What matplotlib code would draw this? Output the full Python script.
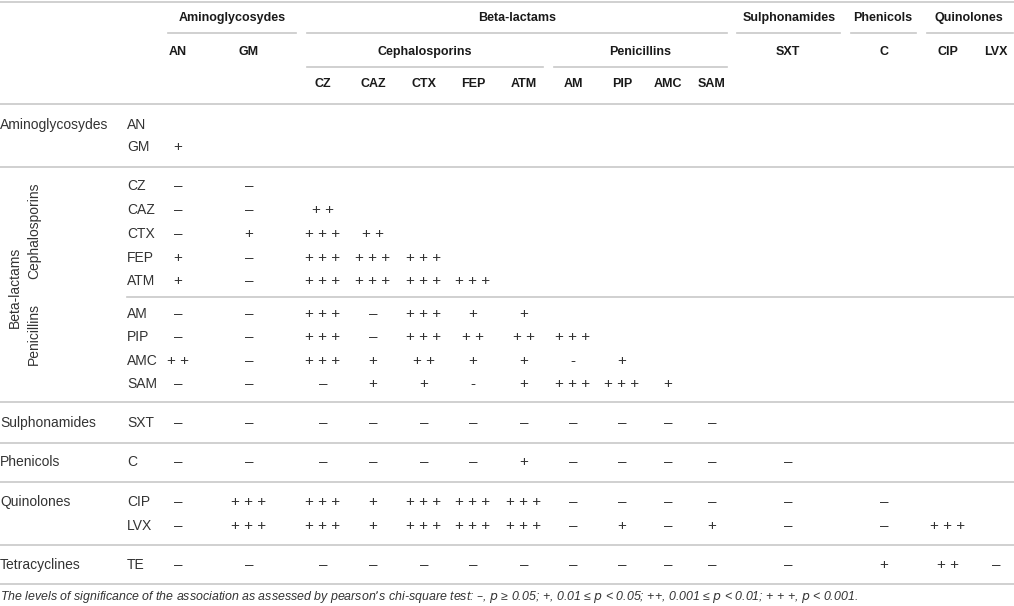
import matplotlib
matplotlib.use("Agg")
import matplotlib.pyplot as plt

plt.rcParams['font.family'] = ['Liberation Sans', 'DejaVu Sans']

# Коды антибиотиков (столбцы и строки)
col_codes = ["AN", "GM", "CZ", "CAZ", "CTX", "FEP", "ATM", "AM", "PIP", "AMC", "SAM",
             "SXT", "C", "CIP", "LVX"]
row_codes = ["AN", "GM", "CZ", "CAZ", "CTX", "FEP", "ATM", "AM", "PIP", "AMC", "SAM",
             "SXT", "C", "CIP", "LVX", "TE"]

# Группы в шапке таблицы
group_names = ["Aminoglycosydes", "Beta-lactams", "Sulphonamides", "Phenicols", "Quinolones"]
subgroup_names = ["Cephalosporins", "Penicillins"]
row_group_names = ["Aminoglycosydes", "Sulphonamides", "Phenicols", "Quinolones", "Tetracyclines"]

# Значения нижнего треугольника (по строкам)
an_row = []
gm_row = ["+"]
cz_row = ["–", "–"]
caz_row = ["–", "–", "++"]
ctx_row = ["–", "+", "+++", "++"]
fep_row = ["+", "–", "+++", "+++", "+++"]
atm_row = ["+", "–", "+++", "+++", "+++", "+++"]
am_row = ["–", "–", "+++", "–", "+++", "+", "+"]
pip_row = ["–", "–", "+++", "–", "+++", "++", "++", "+++"]
amc_row = ["++", "–", "+++", "+", "++", "+", "+", "-", "+"]
sam_row = ["–", "–", "–", "+", "+", "-", "+", "+++", "+++", "+"]
sxt_row = ["–", "–", "–", "–", "–", "–", "–", "–", "–", "–", "–"]
c_row = ["–", "–", "–", "–", "–", "–", "+", "–", "–", "–", "–", "–"]
cip_row = ["–", "+++", "+++", "+", "+++", "+++", "+++", "–", "–", "–", "–", "–", "–"]
lvx_row = ["–", "+++", "+++", "+", "+++", "+++", "+++", "–", "+", "–", "+", "–", "–", "+++"]
te_row = ["–", "–", "–", "–", "–", "–", "–", "–", "–", "–", "–", "–", "+", "++", "–"]

rows = [an_row, gm_row, cz_row, caz_row, ctx_row, fep_row, atm_row, am_row, pip_row,
        amc_row, sam_row, sxt_row, c_row, cip_row, lvx_row, te_row]

footnote = ("The levels of significance of the association as assessed by pearson’s "
            "chi-square test: –, $p$ ≥ 0.05; +, 0.01 ≤ $p$ < 0.05; ++, 0.001 ≤ $p$ < 0.01; "
            "+ + +, $p$ < 0.001.")

# Разметка (в пикселях)
col_x = [178, 249, 323, 373, 424, 473, 524, 573, 622, 668, 712, 788, 884, 948, 996]
row_y = [125, 147, 186, 210, 234, 258, 281, 314, 337, 361, 384, 423, 462, 502, 526, 565]
row_group_y = [125, 423, 462, 502, 565]
group_x = [232, 517, 789, 883, 969]
group_spans = [(168, 296), (307, 727), (737, 840), (851, 916), (927, 1013)]
subgroup_x = [425, 640]
subgroup_spans = [(307, 543), (554, 727)]
full_lines = [2, 104, 167, 402, 443, 482, 545, 584]

line_color = "#c8c8c8"
text_color = "#333333"
head_color = "#1a1a1a"

fig = plt.figure(figsize=(10.14, 6.06), dpi=100)
ax = fig.add_axes([0, 0, 1, 1])
ax.set_xlim(0, 1014)
ax.set_ylim(606, 0)
ax.axis("off")

for y in full_lines:
    ax.plot([0, 1014], [y, y], color=line_color, lw=1.2)
ax.plot([127, 1014], [297, 297], color=line_color, lw=1.2)
for x0, x1 in group_spans:
    ax.plot([x0, x1], [33, 33], color=line_color, lw=1.2)
for x0, x1 in subgroup_spans:
    ax.plot([x0, x1], [67, 67], color=line_color, lw=1.2)

# Шапка
for name, x in zip(group_names, group_x):
    ax.text(x, 18, name, ha="center", va="center", fontsize=9, fontweight="bold", color=head_color)
for name, x in zip(subgroup_names, subgroup_x):
    ax.text(x, 52, name, ha="center", va="center", fontsize=9, fontweight="bold", color=head_color)
for i, code in enumerate(col_codes):
    y = 84 if 2 <= i <= 10 else 52
    ax.text(col_x[i], y, code, ha="center", va="center", fontsize=9, fontweight="bold", color=head_color)

# Подписи строк
for name, y in zip(row_group_names, row_group_y):
    ax.text(0, y, name, ha="left", va="center", fontsize=10, color=text_color)
ax.text(15, 287, "Beta-lactams", ha="center", va="center", rotation=90, fontsize=10, color=text_color)
ax.text(34, 231, "Cephalosporins", ha="center", va="center", rotation=90, fontsize=10, color=text_color)
ax.text(34, 334, "Penicillins", ha="center", va="center", rotation=90, fontsize=10, color=text_color)

for code, y in zip(row_codes, row_y):
    ax.text(127, y, code, ha="left", va="center", fontsize=10, color=text_color)

# Ячейки
for vals, y in zip(rows, row_y):
    for j, v in enumerate(vals):
        s = " ".join(v) if v.startswith("+") else v
        ax.text(col_x[j], y, s, ha="center", va="center", fontsize=11, color=text_color)

ax.text(0, 597, footnote, ha="left", va="center", fontsize=8.9, style="italic", color=text_color)

fig.savefig("out.png", dpi=100)
